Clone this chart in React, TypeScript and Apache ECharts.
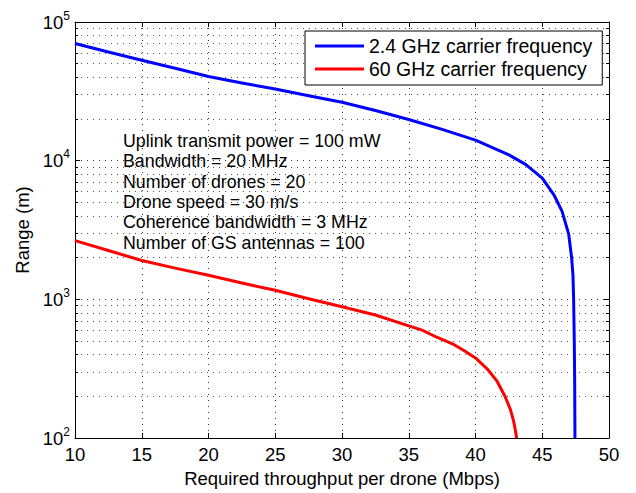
import React, { useEffect, useRef } from "react";
import * as echarts from "echarts";

const throughput24 = [10, 12.5, 15, 17.5, 20, 22.5, 25, 27.5, 30, 32.5, 35, 37.5, 40, 42.5, 43.75, 45, 45.86, 46.48, 46.98, 47.2, 47.3, 47.35, 47.4, 47.43, 47.45];
const range24 = [70000, 60700, 53000, 46400, 40500, 36300, 32900, 29400, 26400, 23000, 19800, 16800, 14060, 11000, 9400, 7480, 5700, 4330, 2950, 2000, 1500, 1000, 500, 250, 100];

const throughput60 = [10, 12.5, 15, 17.5, 20, 22.5, 25, 27.5, 30, 32.5, 35, 36, 37.1, 38.4, 39.1, 40, 40.9, 41.6, 42.2, 42.6, 42.85, 43.0, 43.08];
const range60 = [2650, 2250, 1905, 1680, 1490, 1310, 1163, 1010, 883, 771, 644, 600, 533, 471, 429, 378, 313, 258, 201, 162, 133, 112, 100];

const seriesNames = ["2.4 GHz carrier frequency", "60 GHz carrier frequency"];
const annotationLines = [
  "Uplink transmit power = 100 mW",
  "Bandwidth = 20 MHz",
  "Number of drones = 20",
  "Drone speed = 30 m/s",
  "Coherence bandwidth = 3 MHz",
  "Number of GS antennas = 100",
];

const FONT = "Liberation Sans, Arial, Helvetica, sans-serif";

export default function App() {
  const ref = useRef<HTMLDivElement>(null);
  useEffect(() => {
    if (!ref.current) return;
    const chart = echarts.init(ref.current, undefined, { renderer: "svg" });
    const gridLine = { show: true, lineStyle: { color: "#333", type: [1, 5], width: 1 } };
    const xBase = {
      type: "value" as const,
      min: 10,
      max: 50,
      interval: 5,
      axisLine: { show: true, onZero: false, lineStyle: { color: "#000", width: 1 } },
      axisTick: { show: true, inside: true, length: 5, lineStyle: { color: "#000" } },
    };
    const yBase = {
      type: "log" as const,
      logBase: 10,
      min: 100,
      max: 100000,
      axisLine: { show: true, onZero: false, lineStyle: { color: "#000", width: 1 } },
      axisTick: { show: true, inside: true, length: 5, lineStyle: { color: "#000" } },
      minorTick: { show: true, splitNumber: 9, length: 3, lineStyle: { color: "#000" } },
    };
    chart.setOption({
      animation: false,
      textStyle: { fontFamily: FONT },
      grid: { left: 75, right: 27, top: 22, bottom: 50, containLabel: false },
      legend: {
        data: seriesNames,
        orient: "vertical",
        left: 305,
        top: 31,
        backgroundColor: "#fff",
        borderColor: "#000",
        borderWidth: 1,
        padding: [5, 10, 6, 10],
        itemGap: 3,
        itemWidth: 49,
        itemHeight: 3,
        icon: "rect",
        textStyle: { fontSize: 19.5, color: "#000", fontFamily: FONT },
      },
      xAxis: [
        {
          ...xBase,
          position: "bottom",
          name: "Required throughput per drone (Mbps)",
          nameLocation: "middle",
          nameGap: 31,
          nameTextStyle: { fontSize: 18.5, color: "#000", fontFamily: FONT },
          axisLabel: { fontSize: 18.5, color: "#000", margin: 7, fontFamily: FONT },
          splitLine: gridLine,
        },
        {
          ...xBase,
          position: "top",
          axisLabel: { show: false },
          splitLine: { show: false },
        },
      ],
      yAxis: [
        {
          ...yBase,
          position: "left",
          name: "Range (m)",
          nameLocation: "middle",
          nameGap: 41,
          nameTextStyle: { fontSize: 18.5, color: "#000", fontFamily: FONT },
          axisLabel: {
            margin: 5,
            formatter: (v: number) => `{b|10}{s|${Math.round(Math.log10(v))}}`,
            rich: {
              b: { fontSize: 18.5, color: "#000", fontFamily: FONT },
              s: { fontSize: 12, color: "#000", fontFamily: FONT, padding: [0, 0, 13, 0] },
            },
          },
          splitLine: gridLine,
          minorSplitLine: { show: true, lineStyle: { color: "#555", type: [1, 5], width: 1 } },
        },
        {
          ...yBase,
          position: "right",
          axisLabel: { show: false },
          splitLine: { show: false },
        },
      ],
      graphic: annotationLines.map((t, i) => ({
        type: "text",
        left: 123,
        top: 132 + i * 20.3,
        style: { text: t, fontSize: 17.8, fill: "#000", fontFamily: FONT },
      })),
      series: [
        {
          name: seriesNames[0],
          type: "line",
          data: throughput24.map((x, i) => [x, range24[i]]),
          showSymbol: false,
          symbol: "none",
          lineStyle: { color: "#0000ff", width: 3, join: "round" },
          itemStyle: { color: "#0000ff" },
          z: 5,
        },
        {
          name: seriesNames[1],
          type: "line",
          data: throughput60.map((x, i) => [x, range60[i]]),
          showSymbol: false,
          symbol: "none",
          lineStyle: { color: "#ff0000", width: 3, join: "round" },
          itemStyle: { color: "#ff0000" },
          z: 5,
        },
      ],
    });
    return () => chart.dispose();
  }, []);
  return (
    <div
      ref={ref}
      style={{ position: "fixed", left: 0, top: 0, width: 636, height: 493, background: "#fff" }}
    />
  );
}
